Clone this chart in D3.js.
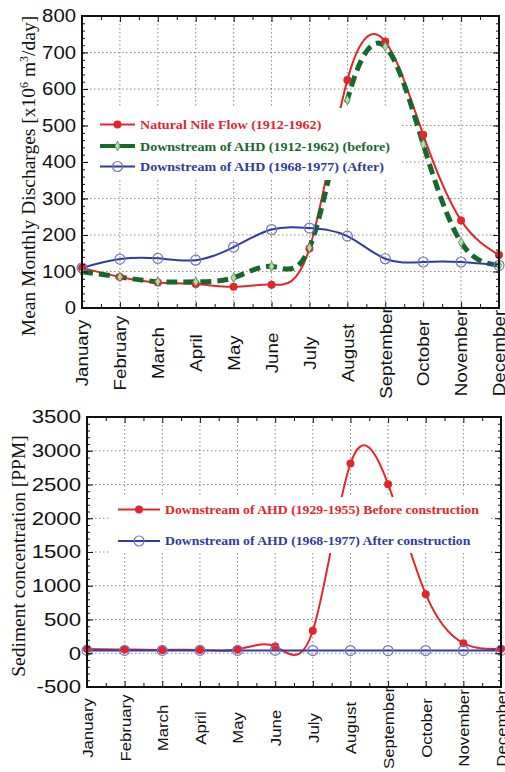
<!DOCTYPE html>
<html>
<head>
<meta charset="utf-8">
<script src="https://cdn.jsdelivr.net/npm/d3@7"></script>
<style>
  body { margin: 0; background: #fff; }
</style>
</head>
<body>
<script>
// Month categories
var months = ["January", "February", "March", "April", "May", "June",
              "July", "August", "September", "October", "November", "December"];

// Mean monthly discharges (x10^6 m^3/day)
var naturalFlow = [110, 85, 70, 66, 58, 64, 163, 625, 730, 475, 240, 145];
var beforeAHD   = [99, 85, 72, 72, 83, 114, 165, 570, 716, 449, 180, 117];
var afterAHD    = [110, 134, 136, 131, 167, 215, 219, 197, 135, 126, 126, 117];

// Sediment concentration (PPM)
var sedBefore = [62, 55, 50, 50, 55, 100, 333, 2811, 2505, 875, 150, 66];
var sedAfter  = [42, 42, 42, 42, 42, 42, 40, 40, 40, 40, 40, 42];

var dischargeTicks = d3.range(0, 801, 100);
var sedimentTicks = d3.range(-500, 3501, 500);

var dischargeLegend = ["Natural Nile Flow (1912-1962)",
                       "Downstream of AHD (1912-1962) (before)",
                       "Downstream of AHD (1968-1977) (After)"];
var sedimentLegend = ["Downstream of AHD (1929-1955) Before construction",
                      "Downstream of AHD (1968-1977) After construction"];

var width = 505, height = 772;
var red = "#e3262c", green = "#17692b", blue = "#2f3c9e";

var svg = d3.select("body").append("svg")
    .attr("width", width)
    .attr("height", height);

// stretch text along its length to match the reference's wide glyphs
function stretch(sel, k) {
  sel.each(function() {
    var l = this.getComputedTextLength();
    d3.select(this).attr("textLength", l * k).attr("lengthAdjust", "spacingAndGlyphs");
  });
}

function marker(g, type, cx, cy, color) {
  if (type == "dot") {
    g.append("circle").attr("cx", cx).attr("cy", cy).attr("r", 4).attr("fill", color);
  } else if (type == "circle") {
    g.append("circle").attr("cx", cx).attr("cy", cy).attr("r", 5)
      .attr("fill", "none").attr("stroke", "#6f76c6").attr("stroke-width", 1.2);
  } else {
    g.append("path").attr("d", d3.symbol(d3.symbolDiamond, 26)())
      .attr("transform", "translate(" + cx + "," + cy + ")")
      .attr("fill", "#b5dcae").attr("stroke", "#3f8a48").attr("stroke-width", 0.8);
  }
}

function drawPanel(p) {
  var x = d3.scaleLinear().domain([0, months.length - 1]).range([p.left, p.right]);
  var y = d3.scaleLinear().domain(p.domain).range([p.bottom, p.top]);
  var idx = d3.range(months.length);
  var g = svg.append("g");

  // dotted grid
  g.selectAll(".vgrid").data(idx.slice(1, -1)).enter().append("line")
    .attr("x1", d => x(d)).attr("x2", d => x(d))
    .attr("y1", p.top).attr("y2", p.bottom)
    .attr("stroke", "#888").attr("stroke-dasharray", "1.5,2.5");
  g.selectAll(".hgrid").data(p.ticks.slice(1, -1)).enter().append("line")
    .attr("x1", p.left).attr("x2", p.right)
    .attr("y1", d => y(d)).attr("y2", d => y(d))
    .attr("stroke", "#888").attr("stroke-dasharray", "1.5,2.5");

  // spline curves
  var line = d3.line().x((d, i) => x(i)).y(d => y(d)).curve(d3.curveNatural);
  p.series.forEach(function(s) {
    g.append("path").datum(s.values)
      .attr("d", line)
      .attr("fill", "none")
      .attr("stroke", s.color)
      .attr("stroke-width", s.width)
      .attr("stroke-dasharray", s.dash || null);
  });
  p.series.forEach(function(s) {
    s.values.forEach(function(v, i) { marker(g, s.marker, x(i), y(v), s.color); });
  });

  // legend box
  var lg = p.legend;
  g.append("rect").attr("x", lg.x0).attr("y", lg.y0)
    .attr("width", lg.x1 - lg.x0).attr("height", lg.y1 - lg.y0).attr("fill", "#fff");
  p.series.forEach(function(s, i) {
    var ly = lg.rows[i];
    g.append("line").attr("x1", lg.lx0).attr("x2", lg.lx1).attr("y1", ly).attr("y2", ly)
      .attr("stroke", s.color).attr("stroke-width", s.dash ? 4 : 2);
    marker(g, s.marker, (lg.lx0 + lg.lx1) / 2, ly, s.color);
    g.append("text").attr("x", lg.tx).attr("y", ly).attr("dy", "0.35em")
      .attr("font-family", "Liberation Serif").attr("font-weight", "bold")
      .attr("font-size", lg.size).attr("fill", s.color)
      .text(s.label)
      .call(stretch, lg.k);
  });

  // x axis with month labels, centred below the axis
  var xb = g.append("g").attr("transform", "translate(0," + p.bottom + ")")
    .call(d3.axisBottom(x).tickValues(idx).tickSize(-6).tickFormat(i => months[i]));
  xb.select(".domain").remove();
  xb.selectAll("text")
    .attr("transform", "rotate(-90)")
    .attr("x", -p.monthMid).attr("y", 0).attr("dy", "0.36em")
    .attr("text-anchor", "middle")
    .attr("font-family", "Liberation Sans").attr("font-size", p.monthSize).attr("fill", "#111")
    .call(stretch, p.monthK);
  var xm = g.append("g").attr("transform", "translate(0," + p.bottom + ")")
    .call(d3.axisBottom(x).tickValues(d3.range(0.5, 11, 1)).tickSize(-4).tickFormat(""));
  xm.select(".domain").remove();
  var xt = g.append("g").attr("transform", "translate(0," + p.top + ")")
    .call(d3.axisTop(x).tickValues(idx).tickSize(-6).tickFormat(""));
  xt.select(".domain").remove();
  var xtm = g.append("g").attr("transform", "translate(0," + p.top + ")")
    .call(d3.axisTop(x).tickValues(d3.range(0.5, 11, 1)).tickSize(-4).tickFormat(""));
  xtm.select(".domain").remove();

  // y axes, majors and minors on both sides
  var yl = g.append("g").attr("transform", "translate(" + p.left + ",0)")
    .call(d3.axisLeft(y).tickValues(p.ticks).tickSize(-6).tickPadding(p.pad)
      .tickFormat(d => String(d)));
  yl.select(".domain").remove();
  yl.selectAll("text")
    .attr("font-family", "Liberation Sans").attr("font-size", p.labelSize).attr("fill", "#111")
    .call(stretch, p.labelK);
  var minors = d3.range(p.domain[0], p.domain[1] + 1, p.minor);
  var ylm = g.append("g").attr("transform", "translate(" + p.left + ",0)")
    .call(d3.axisLeft(y).tickValues(minors).tickSize(-3).tickFormat(""));
  ylm.select(".domain").remove();
  var yr = g.append("g").attr("transform", "translate(" + p.right + ",0)")
    .call(d3.axisRight(y).tickValues(p.ticks).tickSize(-6).tickFormat(""));
  yr.select(".domain").remove();
  var yrm = g.append("g").attr("transform", "translate(" + p.right + ",0)")
    .call(d3.axisRight(y).tickValues(minors).tickSize(-3).tickFormat(""));
  yrm.select(".domain").remove();
  g.selectAll(".tick line").attr("stroke", "#111");

  // frame
  g.append("rect").attr("x", p.left).attr("y", p.top)
    .attr("width", p.right - p.left).attr("height", p.bottom - p.top)
    .attr("fill", "none").attr("stroke", "#111").attr("stroke-width", 2);

  // y title
  var t = g.append("text")
    .attr("transform", "translate(" + p.titleX + "," + p.titleY + ") rotate(-90)")
    .attr("text-anchor", "middle").attr("dy", "0.35em")
    .attr("font-family", "Liberation Serif").attr("font-size", 19.5).attr("fill", "#111");
  p.title.forEach(function(part) {
    var ts = t.append("tspan").text(part[0]);
    if (part[1]) ts.attr("baseline-shift", "super").attr("font-size", 12);
  });
}

drawPanel({
  left: 82, right: 499, top: 16, bottom: 308,
  domain: [0, 800], ticks: dischargeTicks, minor: 20,
  labelSize: 18, labelK: 1.13, pad: 6,
  monthMid: 45, monthSize: 16, monthK: 1.17,
  titleX: 28, titleY: 176,
  title: [["Mean Monthly Discharges [x10"], ["6", true], [" m"], ["3", true], ["/day]"]],
  series: [
    {label: dischargeLegend[0], values: naturalFlow, color: red, width: 2, marker: "dot"},
    {label: dischargeLegend[1], values: beforeAHD, color: green, width: 5, dash: "11,6", marker: "diamond"},
    {label: dischargeLegend[2], values: afterAHD, color: blue, width: 2, marker: "circle"}
  ],
  legend: {x0: 88, x1: 402, y0: 108, y1: 180, rows: [124.5, 146, 166.5],
           lx0: 100, lx1: 135, tx: 140, size: 13, k: 1.08}
});

drawPanel({
  left: 87, right: 501, top: 417, bottom: 687,
  domain: [-500, 3500], ticks: sedimentTicks, minor: 100,
  labelSize: 18.5, labelK: 1.2, pad: 6,
  monthMid: 41, monthSize: 15, monthK: 1.12,
  titleX: 18, titleY: 556,
  title: [["Sediment concentration [PPM]"]],
  series: [
    {label: sedimentLegend[0], values: sedBefore, color: red, width: 2, marker: "dot"},
    {label: sedimentLegend[1], values: sedAfter, color: blue, width: 2, marker: "circle"}
  ],
  legend: {x0: 110, x1: 490, y0: 497, y1: 553, rows: [509.5, 541],
           lx0: 118, lx1: 160, tx: 165, size: 12.5, k: 1.1}
});
</script>
</body>
</html>
